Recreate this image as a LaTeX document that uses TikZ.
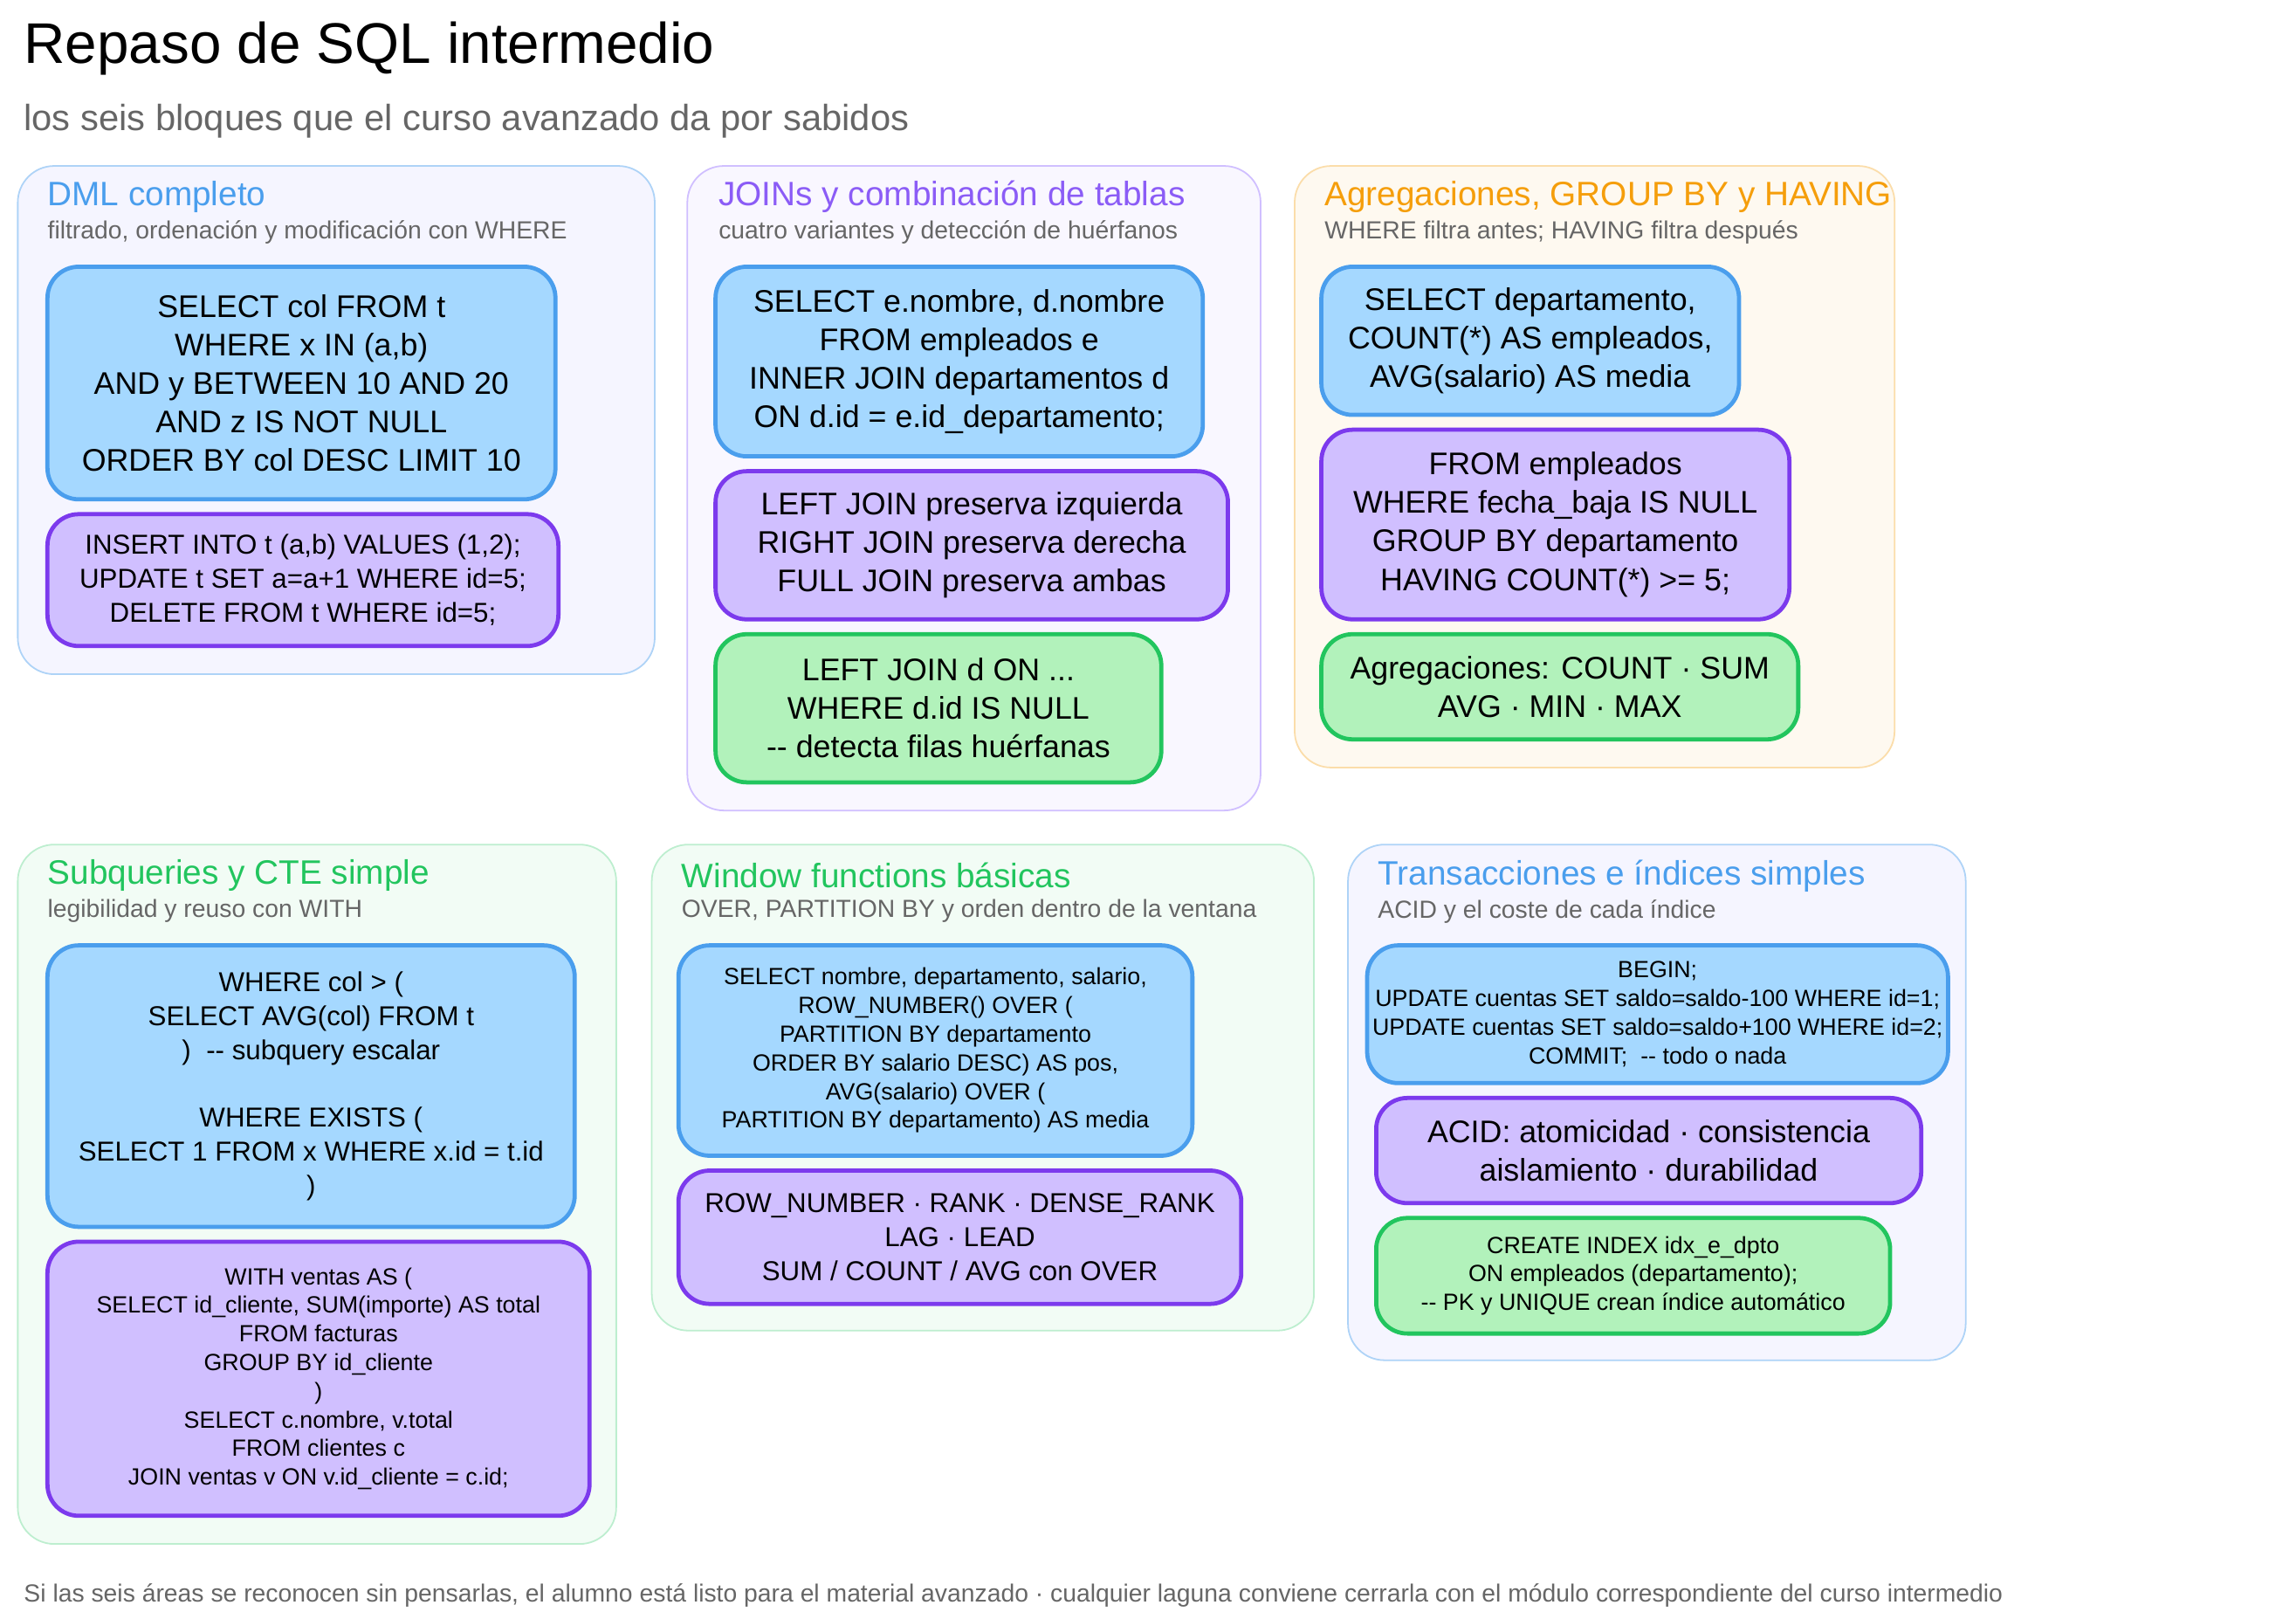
\documentclass[tikz,border=0pt]{standalone}
\usepackage{fontspec}
\setmainfont{Liberation Sans}
\usetikzlibrary{positioning}
\definecolor{blueFill}{HTML}{A5D8FF}
\definecolor{blueLine}{HTML}{4A9EED}
\definecolor{purpFill}{HTML}{D0BFFF}
\definecolor{purpLine}{HTML}{7C3AED}
\definecolor{grnFill}{HTML}{B2F2BB}
\definecolor{grnLine}{HTML}{22C55E}
\definecolor{orng}{HTML}{F59E0B}
\definecolor{purpTitle}{HTML}{8B5CF6}
\definecolor{txtGray}{HTML}{666666}
\tikzset{
  panel/.style = {rounded corners=14pt, line width=0.6pt},
  code/.style = {rounded corners=12pt, line width=1.6pt, align=center, inner sep=2pt, font=\fontsize{12}{14.8}\selectfont},
  bluebox/.style = {code, fill=blueFill, draw=blueLine},
  purpbox/.style = {code, fill=purpFill, draw=purpLine},
  grnbox/.style = {code, fill=grnFill, draw=grnLine},
  small/.style = {font=\fontsize{9}{11}\selectfont},
  mid/.style = {font=\fontsize{10.5}{13}\selectfont},
  ptitle/.style = {anchor=west, font=\fontsize{13}{15}\selectfont},
  psub/.style = {anchor=west, text=txtGray, font=\fontsize{9.5}{11}\selectfont}
}
\begin{document}
\begin{tikzpicture}[x=0.02cm, y=-0.02cm]
    \useasboundingbox (0,0) rectangle (1550,1087.5);

    \node [anchor=west, font=\fontsize{22}{26}\selectfont] (title) at (10,33) {Repaso de SQL intermedio};
    \node [anchor=west, text=txtGray, font=\fontsize{14}{16}\selectfont] (subtitle) at (10,82) {los seis bloques que el curso avanzado da por sabidos};

    % panels
    \draw [panel, fill=blue!4, draw=blueLine!45] (12,112) rectangle (442,455);
    \draw [panel, fill=purpTitle!5, draw=purpFill] (464,112) rectangle (851,547);
    \draw [panel, fill=orng!6, draw=orng!35] (874,112) rectangle (1279,518);
    \draw [panel, fill=grnLine!6, draw=grnLine!30] (12,570) rectangle (416,1042);
    \draw [panel, fill=grnLine!6, draw=grnLine!30] (440,570) rectangle (887,898);
    \draw [panel, fill=blue!4, draw=blueLine!45] (910,570) rectangle (1327,918);

    \node [ptitle, text=blueLine] (t1) at (26,133) {DML completo};
    \node [psub] (s1) at (26,157) {filtrado, ordenación y modificación con WHERE};
    \node [ptitle, text=purpTitle] (t2) at (479,133) {JOINs y combinación de tablas};
    \node [psub] (s2) at (479,157) {cuatro variantes y detección de huérfanos};
    \node [ptitle, text=orng] (t3) at (888,133) {Agregaciones, GROUP BY y HAVING};
    \node [psub] (s3) at (888,157) {WHERE filtra antes; HAVING filtra después};
    \node [ptitle, text=grnLine] (t4) at (26,591) {Subqueries y CTE simple};
    \node [psub] (s4) at (26,615) {legibilidad y reuso con WITH};
    \node [ptitle, text=grnLine] (t5) at (454,591) {Window functions básicas};
    \node [psub] (s5) at (454,615) {OVER, PARTITION BY y orden dentro de la ventana};
    \node [ptitle, text=blueLine] (t6) at (924,591) {Transacciones e índices simples};
    \node [psub] (s6) at (924,615) {ACID y el coste de cada índice};

    % DML
    \node [bluebox, minimum width=6.86cm, minimum height=3.14cm] (dmlSel) at (203.5,258.5)
        {SELECT col FROM t\\ WHERE x IN (a,b)\\ AND y BETWEEN 10 AND 20\\ AND z IS NOT NULL\\ ORDER BY col DESC LIMIT 10};
    \node [purpbox, mid, minimum width=6.9cm, minimum height=1.78cm] (dmlMod) at (204.5,391.5)
        {INSERT INTO t (a,b) VALUES (1,2);\\ UPDATE t SET a=a+1 WHERE id=5;\\ DELETE FROM t WHERE id=5;};

    % JOINs
    \node [bluebox, minimum width=6.58cm, minimum height=2.56cm] (joinSel) at (647.5,244)
        {SELECT e.nombre, d.nombre\\ FROM empleados e\\ INNER JOIN departamentos d\\ ON d.id = e.id\_departamento;};
    \node [purpbox, minimum width=6.92cm, minimum height=2cm] (joinTipos) at (656,368)
        {LEFT JOIN preserva izquierda\\ RIGHT JOIN preserva derecha\\ FULL JOIN preserva ambas};
    \node [grnbox, minimum width=6.02cm, minimum height=2cm] (joinHuerf) at (633.5,478)
        {LEFT JOIN d ON ...\\ WHERE d.id IS NULL\\ -{}- detecta filas huérfanas};

    % Agregaciones
    \node [bluebox, minimum width=5.64cm, minimum height=2cm] (aggSel) at (1033,230)
        {SELECT departamento,\\ COUNT(*) AS empleados,\\ AVG(salario) AS media};
    \node [purpbox, minimum width=6.32cm, minimum height=2.56cm] (aggFrom) at (1050,354)
        {FROM empleados\\ WHERE fecha\_baja IS NULL\\ GROUP BY departamento\\ HAVING COUNT(*) >= 5;};
    \node [grnbox, minimum width=6.44cm, minimum height=1.42cm] (aggFun) at (1053,463.5)
        {Agregaciones: COUNT · SUM\\ AVG · MIN · MAX};

    % Subqueries
    \node [bluebox, mid, minimum width=7.12cm, minimum height=3.8cm] (subq) at (210,733)
        {WHERE col > (\\ SELECT AVG(col) FROM t\\ )\ \ -{}- subquery escalar\\[13pt] WHERE EXISTS (\\ SELECT 1 FROM x WHERE x.id = t.id\\ )};
    \node [purpbox, small, minimum width=7.32cm, minimum height=3.7cm] (cte) at (215,930.5)
        {WITH ventas AS (\\ SELECT id\_cliente, SUM(importe) AS total\\ FROM facturas\\ GROUP BY id\_cliente\\ )\\ SELECT c.nombre, v.total\\ FROM clientes c\\ JOIN ventas v ON v.id\_cliente = c.id;};

    % Window functions
    \node [bluebox, small, minimum width=6.94cm, minimum height=2.84cm] (winSel) at (631.5,709)
        {SELECT nombre, departamento, salario,\\ ROW\_NUMBER() OVER (\\ PARTITION BY departamento\\ ORDER BY salario DESC) AS pos,\\ AVG(salario) OVER (\\ PARTITION BY departamento) AS media};
    \node [purpbox, mid, minimum width=7.6cm, minimum height=1.8cm] (winFun) at (648,835)
        {ROW\_NUMBER · RANK · DENSE\_RANK\\ LAG · LEAD\\ SUM / COUNT / AVG con OVER};

    % Transacciones
    \node [bluebox, small, minimum width=7.6cm, minimum height=1.86cm] (txn) at (1119,684.5)
        {BEGIN;\\ UPDATE cuentas SET saldo=saldo-100 WHERE id=1;\\ UPDATE cuentas SET saldo=saldo+100 WHERE id=2;\\ COMMIT;\ \ -{}- todo o nada};
    \node [purpbox, minimum width=7.36cm, minimum height=1.42cm] (acid) at (1113,776.5)
        {ACID: atomicidad · consistencia\\ aislamiento · durabilidad};
    \node [grnbox, small, minimum width=6.94cm, minimum height=1.56cm] (idx) at (1102.5,861)
        {CREATE INDEX idx\_e\_dpto\\ ON empleados (departamento);\\ -{}- PK y UNIQUE crean índice automático};

    \node [anchor=west, text=txtGray, font=\fontsize{9.5}{11}\selectfont] (footer) at (10,1077)
        {Si las seis áreas se reconocen sin pensarlas, el alumno está listo para el material avanzado · cualquier laguna conviene cerrarla con el módulo correspondiente del curso intermedio};
\end{tikzpicture}
\end{document}
